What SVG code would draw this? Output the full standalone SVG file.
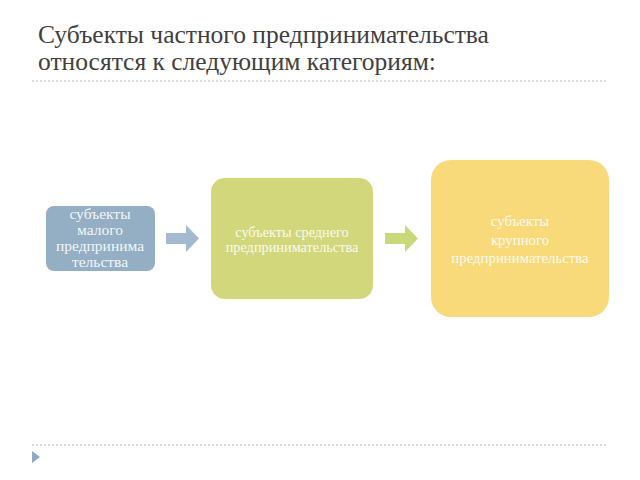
<svg xmlns="http://www.w3.org/2000/svg" width="640" height="480" viewBox="0 0 640 480">
<style>
.title{font-family:"Liberation Serif",serif;font-size:25.5px;fill:#404040}
.lbl{font-family:"Liberation Serif",serif;fill:#ffffff;text-anchor:middle;opacity:0.9}
.dots{stroke:#d0d0d0;stroke-width:1.5;stroke-dasharray:2 2;fill:none}
</style>
<rect width="640" height="480" fill="#ffffff"/>
<g id="title">
<text class="title" x="38" y="43">Субъекты частного предпринимательства</text>
<text class="title" x="38" y="70">относятся к следующим категориям:</text>
</g>
<line class="dots" x1="32" y1="81" x2="608" y2="81"/>
<line class="dots" x1="32" y1="445" x2="608" y2="445"/>
<polygon points="32,451 40,457 32,463" fill="#8fa9c4"/>
<g id="node1">
<rect x="46" y="206" width="109" height="65" rx="8" fill="#94aec4"/>
<text class="lbl" x="100" y="219" font-size="15.5">субъекты</text>
<text class="lbl" x="100" y="235" font-size="15.5">малого</text>
<text class="lbl" x="100" y="251" font-size="15.5">предпринима</text>
<text class="lbl" x="100" y="267" font-size="15.5">тельства</text>
</g>
<g id="node2">
<rect x="211" y="178" width="162" height="121" rx="14" fill="#d1d77a"/>
<text class="lbl" x="292" y="237" font-size="14.3">субъекты среднего</text>
<text class="lbl" x="292" y="252" font-size="14.3">предпринимательства</text>
</g>
<g id="node3">
<rect x="431" y="160" width="178" height="157" rx="20" fill="#f9da7a"/>
<text class="lbl" x="520" y="226" font-size="14.8">субъекты</text>
<text class="lbl" x="520" y="245" font-size="14.8">крупного</text>
<text class="lbl" x="520" y="263" font-size="14.8">предпринимательства</text>
</g>
<g id="connectors">
<polygon points="166,233 186,233 186,225 199,238.5 186,252 186,244 166,244" fill="#a4bad0"/>
<polygon points="385,233 405,233 405,225 418,238.5 405,252 405,244 385,244" fill="#c9d97a"/>
</g>
</svg>
